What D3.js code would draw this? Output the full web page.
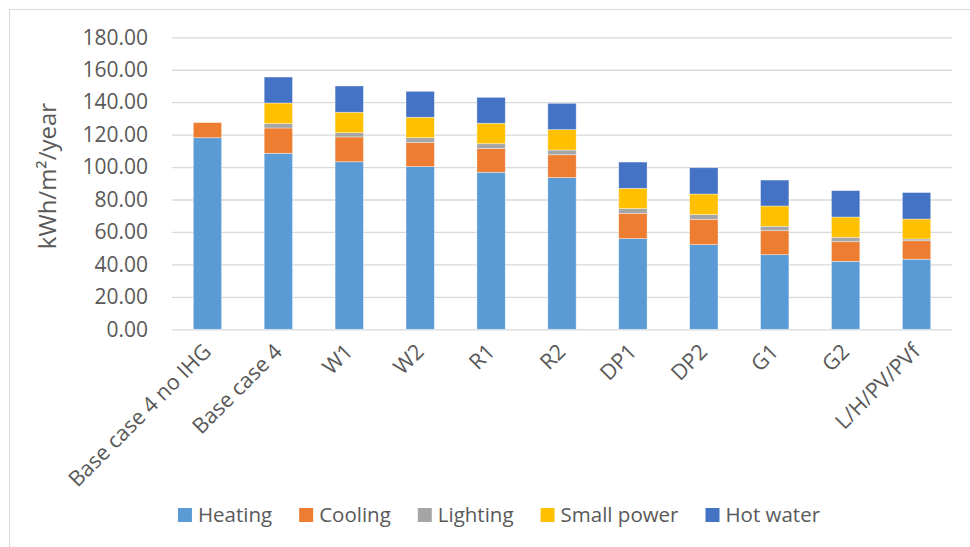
<!DOCTYPE html>
<html><head><meta charset="utf-8">
<script src="https://cdn.jsdelivr.net/npm/d3@7"></script>
<style>body{margin:0;background:#fff;} svg{display:block;font-family:"Open Sans",sans-serif;}</style>
</head><body>
<svg id="c" width="970" height="547"></svg>
<script>
const categories = ["Base case 4 no IHG","Base case 4","W1","W2","R1","R2","DP1","DP2","G1","G2","L/H/PV/PVf"];
const seriesNames = ["Heating","Cooling","Lighting","Small power","Hot water"];
const heating    = [118.1,108.5,103.3,100.3,96.8,93.5,55.9,52.2,46.0,41.9,43.2];
const cooling    = [9.3,15.6,15.3,14.8,14.6,14.1,15.6,15.6,14.8,12.1,11.4];
const lighting   = [0,2.7,2.6,3.0,3.0,2.9,2.9,2.9,2.7,2.7,1.1];
const smallPower = [0,12.7,12.6,12.6,12.6,12.6,12.5,12.7,12.5,12.5,12.3];
const hotWater   = [0,16.0,16.2,16.0,16.0,16.2,16.2,16.2,16.0,16.3,16.3];
const yTicks = [0,20,40,60,80,100,120,140,160,180];
const colors = ["#5B9BD5","#ED7D31","#A5A5A5","#FFC000","#4472C4"];

const svg = d3.select("#c");
svg.append("rect").attr("x",9.5).attr("y",9.5).attr("width",1000).attr("height",600)
  .attr("fill","#fff").attr("stroke","#d9d9d9").attr("stroke-width",1);

const x0=172,x1=952,yB=329.3,yT=37.3;
const x = d3.scaleBand().domain(categories).range([x0,x1]).paddingInner(0.6).paddingOuter(0.3);
const y = d3.scaleLinear().domain([0,180]).range([yB,yT]);

const yAxis = svg.append("g").attr("transform",`translate(${x0},0)`)
  .call(d3.axisLeft(y).tickValues(yTicks).tickFormat(d3.format(".2f")).tickSize(-(x1-x0)).tickPadding(24));
yAxis.select(".domain").remove();
yAxis.selectAll(".tick line").attr("stroke","#d9d9d9").attr("stroke-width",1.3);
yAxis.selectAll(".tick text").attr("fill","#595959").style("font-size","21px").style("font-family","'Open Sans',sans-serif");

const rows = categories.map((c,i)=>({cat:c,"Heating":heating[i],"Cooling":cooling[i],"Lighting":lighting[i],"Small power":smallPower[i],"Hot water":hotWater[i]}));
const stacked = d3.stack().keys(seriesNames)(rows);
svg.append("g").selectAll("g").data(stacked).join("g").attr("fill",(d,i)=>colors[i])
  .selectAll("rect").data(d=>d.filter(p=>p[1]-p[0]>0)).join("rect")
  .attr("x",d=>x(d.data.cat)).attr("width",x.bandwidth())
  .attr("y",d=>y(d[1])).attr("height",d=>y(d[0])-y(d[1]))
  .attr("stroke","#ffffff").attr("stroke-opacity",0.5).attr("stroke-width",0.75);

// x labels
svg.append("g").selectAll("text").data(categories).join("text")
  .attr("transform",d=>`translate(${x(d)+x.bandwidth()/2+5},${353}) rotate(-45)`)
  .attr("text-anchor","end").attr("fill","#595959").style("font-size","21.5px")
  .text(d=>d);

// y title
svg.append("text").attr("transform","translate(56,176) rotate(-90)").attr("text-anchor","middle")
  .attr("fill","#595959").style("font-size","24px").text("kWh/m²/year");

// legend
const lg = svg.append("g");
let cx = 0;
seriesNames.forEach((n,i)=>{
  const g = lg.append("g").attr("transform",`translate(${cx},0)`);
  g.append("rect").attr("x",0).attr("y",-6.5).attr("width",14).attr("height",14).attr("fill",colors[i]);
  const t = g.append("text").attr("x",20).attr("y",7.5).attr("fill","#595959").style("font-size","20.5px").text(n);
  const w = t.node().getComputedTextLength();
  cx += 20 + w + 27;
});
const total = cx - 27;
lg.attr("transform",`translate(${499-total/2},514.5)`);
</script>
</body></html>
